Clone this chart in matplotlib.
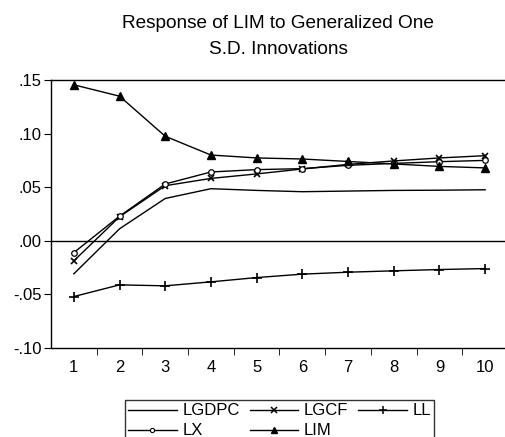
import matplotlib.pyplot as plt
from matplotlib.lines import Line2D

plt.rcParams['font.family'] = ['Liberation Sans', 'DejaVu Sans']

periods = [1, 2, 3, 4, 5, 6, 7, 8, 9, 10]
lgdpc = [-0.0308, 0.0112, 0.0395, 0.0486, 0.0470, 0.0458, 0.0464, 0.0470, 0.0472, 0.0476]
lgcf = [-0.0187, 0.0224, 0.0514, 0.0582, 0.0624, 0.0670, 0.0713, 0.0745, 0.0773, 0.0794]
ll = [-0.0520, -0.0411, -0.0420, -0.0383, -0.0343, -0.0311, -0.0293, -0.0280, -0.0268, -0.0259]
lx = [-0.0110, 0.0230, 0.0530, 0.0642, 0.0664, 0.0673, 0.0704, 0.0722, 0.0738, 0.0750]
lim = [0.1455, 0.1349, 0.0975, 0.0800, 0.0773, 0.0763, 0.0740, 0.0717, 0.0694, 0.0680]

yticks = [-0.10, -0.05, 0.00, 0.05, 0.10, 0.15]
ytick_labels = ['-.10', '-.05', '.00', '.05', '.10', '.15']

fig = plt.figure(figsize=(5.06, 4.37), dpi=100)
ax = fig.add_axes([51 / 506, 89 / 437, 457 / 506, 268 / 437])

lw = 1.0
ax.axhline(0, color='black', lw=lw)
ax.plot(periods, lgdpc, color='black', lw=lw)
ax.plot(periods, lgcf, color='black', lw=lw, marker='x', ms=5, mew=1.2)
ax.plot(periods, ll, color='black', lw=lw, marker='+', ms=7, mew=1.2)
ax.plot(periods, lx, color='black', lw=lw, marker='o', ms=4,
        mfc='white', mew=0.9)
ax.plot(periods, lim, color='black', lw=lw, marker='^', ms=6)

ax.set_xlim(0.5, 10.5)
ax.set_ylim(-0.10, 0.15)
ax.set_yticks(yticks)
ax.set_yticklabels(ytick_labels)
ax.set_xticks(periods)
ax.set_xticks([p + 0.5 for p in periods[:-1]], minor=True)
ax.tick_params(axis='x', which='major', length=0, labelsize=12, pad=9)
ax.tick_params(axis='x', which='minor', length=5, direction='out')
ax.tick_params(axis='y', length=5, direction='out', labelsize=12, pad=2)
ax.spines['right'].set_visible(False)
for s in ['left', 'top', 'bottom']:
    ax.spines[s].set_linewidth(1.0)

fig.text(278 / 506, 1 - 23 / 437, 'Response of LIM to Generalized One',
         ha='center', va='center', fontsize=13.7)
fig.text(278 / 506, 1 - 49 / 437, 'S.D. Innovations',
         ha='center', va='center', fontsize=13.7)

handles = [
    Line2D([], [], color='black', lw=lw),
    Line2D([], [], color='black', lw=lw, marker='o', ms=3, mfc='white', mew=0.8),
    Line2D([], [], color='black', lw=lw, marker='x', ms=4.5, mew=1.1),
    Line2D([], [], color='black', lw=lw, marker='^', ms=5),
    Line2D([], [], color='black', lw=lw, marker='+', ms=6, mew=1.1),
]
labels = ['LGDPC', 'LX', 'LGCF', 'LIM', 'LL']
leg = fig.legend(handles, labels, ncol=3, loc='upper left',
                 bbox_to_anchor=(125 / 506, 37 / 437), fontsize=12,
                 frameon=True, fancybox=False, edgecolor='black',
                 handlelength=2.9, handletextpad=0.35, columnspacing=0.6,
                 labelspacing=0.3, borderpad=0.2, numpoints=1,
                 borderaxespad=0)
leg.get_frame().set_linewidth(1.0)

fig.savefig('out.png', dpi=100)
